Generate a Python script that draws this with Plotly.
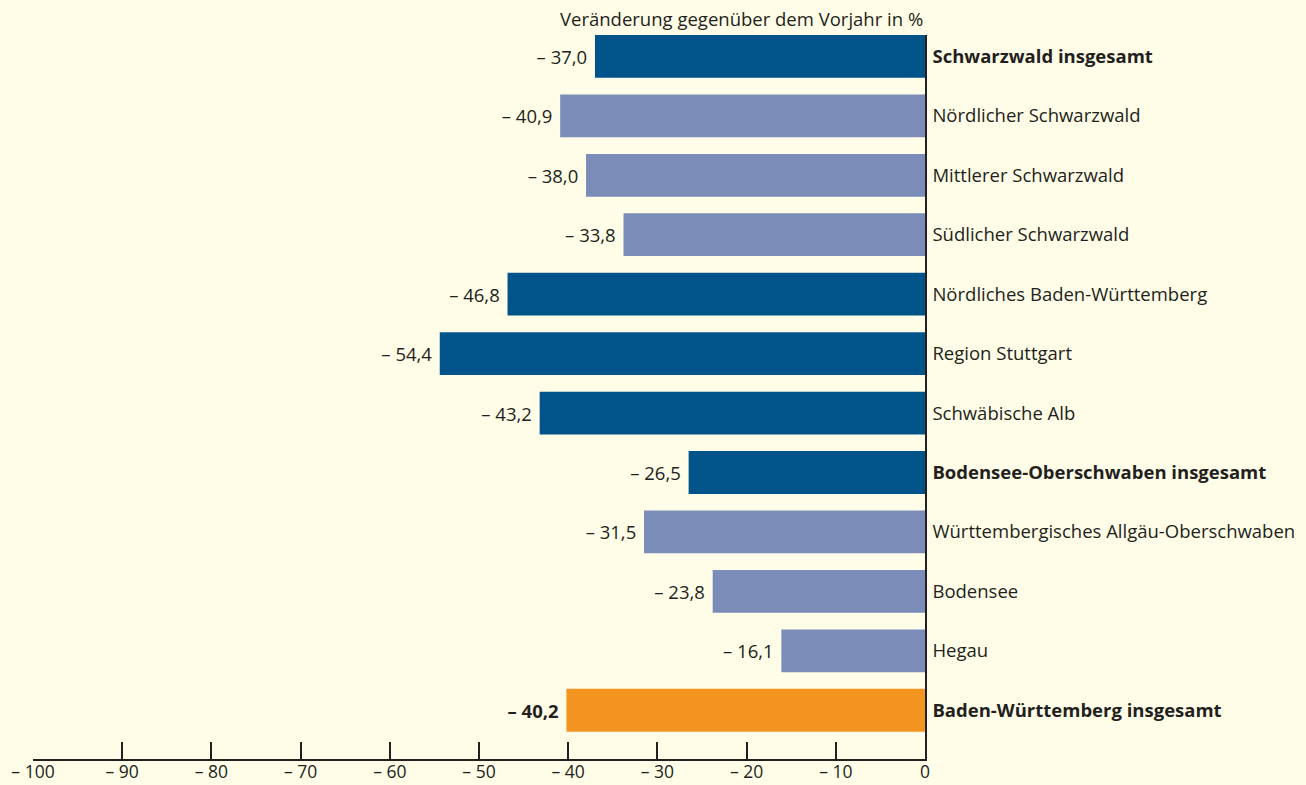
import plotly.graph_objects as go

categories = [
    "Schwarzwald insgesamt",
    "Nördlicher Schwarzwald",
    "Mittlerer Schwarzwald",
    "Südlicher Schwarzwald",
    "Nördliches Baden-Württemberg",
    "Region Stuttgart",
    "Schwäbische Alb",
    "Bodensee-Oberschwaben insgesamt",
    "Württembergisches Allgäu-Oberschwaben",
    "Bodensee",
    "Hegau",
    "Baden-Württemberg insgesamt",
]
values = [-37.0, -40.9, -38.0, -33.8, -46.8, -54.4, -43.2, -26.5, -31.5, -23.8, -16.1, -40.2]
groups = ["region", "sub", "sub", "sub", "region", "region", "region",
          "region", "sub", "sub", "sub", "land"]
tick_values = [-100, -90, -80, -70, -60, -50, -40, -30, -20, -10, 0]

color_map = {"region": "#00548A", "sub": "#7B8CB8", "land": "#F39420"}
TXT = "#231F20"
BG = "#FFFDE7"
FONT = "Open Sans"
FS = 18.5


def fmt(v, dec=1):
    s = f"{abs(v):.{dec}f}".replace(".", ",")
    return ("– " + s) if v < 0 else s


bar_text = [(f"<b>{fmt(v)}</b>" if g == "land" else fmt(v)) + " " for v, g in zip(values, groups)]
cat_text = [f"<b>{c}</b>" if c.endswith("insgesamt") else c for c in categories]
ids = list(range(len(categories)))

fig = go.Figure()
fig.add_trace(go.Bar(
    x=values,
    y=ids,
    orientation="h",
    width=0.72,
    marker=dict(color=[color_map[g] for g in groups], line=dict(width=0)),
    text=bar_text,
    textposition="outside",
    textfont=dict(family=FONT, size=FS, color=TXT),
    cliponaxis=False,
    hoverinfo="skip",
))

fig.update_layout(
    width=1306,
    height=785,
    paper_bgcolor=BG,
    plot_bgcolor=BG,
    margin=dict(l=33, r=381, t=35, b=26, autoexpand=False),
    showlegend=False,
    font=dict(family=FONT, size=FS, color=TXT),
    xaxis=dict(
        range=[-100, 0],
        tickvals=tick_values,
        ticktext=[fmt(v, 0) for v in tick_values],
        ticks="inside",
        ticklen=17,
        tickwidth=1.5,
        tickcolor=TXT,
        showline=True,
        linecolor=TXT,
        linewidth=1.5,
        showgrid=False,
        zeroline=False,
        automargin=False,
        ticklabelstandoff=-4,
        tickfont=dict(family=FONT, size=17.5, color=TXT),
    ),
    yaxis=dict(
        range=[11.82, -0.36],
        tickvals=ids,
        ticktext=cat_text,
        side="right",
        ticks="",
        showline=True,
        linecolor=TXT,
        linewidth=1.5,
        showgrid=False,
        zeroline=False,
        automargin=False,
        ticklabelstandoff=2,
        tickfont=dict(family=FONT, size=FS, color=TXT),
    ),
    annotations=[dict(
        text="Veränderung gegenüber dem Vorjahr in %",
        x=0, xref="x", xanchor="right",
        y=1, yref="paper", yanchor="bottom", yshift=2,
        showarrow=False,
        font=dict(family=FONT, size=FS, color=TXT),
    )],
)

fig.write_html(
    "out.html",
    config={"displayModeBar": False},
    post_script="document.body.style.margin='0';document.body.style.background='#FFFDE7';",
)
